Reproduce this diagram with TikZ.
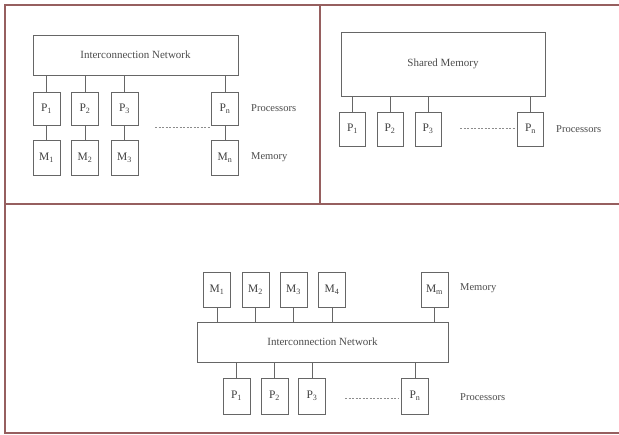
\documentclass[tikz,border=0pt]{standalone}
\usepackage{fontspec}
\setmainfont{Liberation Serif}
\begin{document}
\begin{tikzpicture}[x=1pt,y=-1pt,
  frame/.style={draw={rgb,255:red,150;green,95;blue,95},line width=1.6pt},
  unit/.style={draw=black!60,line width=0.8pt,minimum width=27pt,minimum height=34pt,inner sep=0pt,text=black!75,font=\fontsize{11.5}{13}\selectfont},
  bigbox/.style={draw=black!60,line width=0.8pt,inner sep=0pt,text=black!70,font=\fontsize{11}{12}\selectfont},
  lbl/.style={anchor=west,inner sep=0pt,text=black!70,font=\fontsize{10.5}{12}\selectfont},
  wire/.style={draw=black!60,line width=0.8pt},
  dots/.style={draw=black!45,line width=0.7pt,dash pattern=on 2pt off 1.5pt}]
\useasboundingbox (0,0) rectangle (619,435);
\fill[white] (0,0) rectangle (619,435);
% frame
\draw[frame] (619,5) -- (5,5) -- (5,433) -- (619,433);
\draw[frame] (5,204) -- (619,204);
\draw[frame] (320,5) -- (320,204);

% ---- top-left: distributed memory
\node[bigbox,minimum width=205pt,minimum height=40pt] (netA) at (135.5,55) {Interconnection Network};
\foreach \n/\x/\s in {1/46.5/1,2/85/2,3/124.5/3,4/225/n}{
  \node[unit,minimum height=33pt] (pA\n) at (\x,108.5) {P\textsubscript{\s}};
  \node[unit,minimum height=35pt] (mA\n) at (\x,157.5) {M\textsubscript{\s}};
  \draw[wire] (pA\n.north) -- (pA\n.north |- netA.south);
  \draw[wire] (pA\n.south) -- (mA\n.north);
}
\coordinate (dA1) at (155,127);
\coordinate (dA2) at (210,127);
\draw[dots] (dA1) -- (dA2);
\node[lbl] (procA) at (251,108) {Processors};
\node[lbl] (memA) at (251,157) {Memory};

% ---- top-right: shared memory
\node[bigbox,minimum width=204pt,minimum height=64pt] (sm) at (443,64) {Shared Memory};
\foreach \n/\x/\s in {1/352.5/1,2/390/2,3/428/3,4/530.5/n}{
  \node[unit,minimum width=26pt] (pB\n) at (\x,129) {P\textsubscript{\s}};
  \draw[wire] (pB\n.north) -- (pB\n.north |- sm.south);
}
\coordinate (dB1) at (460,128);
\coordinate (dB2) at (515,128);
\draw[dots] (dB1) -- (dB2);
\node[lbl] (procB) at (556,129) {Processors};

% ---- bottom: processors and memories on a network
\node[bigbox,minimum width=251pt,minimum height=40pt] (netC) at (322.5,342) {Interconnection Network};
\foreach \n/\x/\s in {1/217/1,2/255.5/2,3/293.5/3,4/332/4,5/434.5/m}{
  \node[unit,minimum height=35pt] (mC\n) at (\x,289.5) {M\textsubscript{\s}};
  \draw[wire] (mC\n.south) -- (mC\n.south |- netC.north);
}
\foreach \n/\x/\s in {1/236.5/1,2/274.5/2,3/312/3,4/415/n}{
  \node[unit,minimum height=36pt] (pC\n) at (\x,396) {P\textsubscript{\s}};
  \draw[wire] (pC\n.north) -- (pC\n.north |- netC.south);
}
\coordinate (dC1) at (345,398);
\coordinate (dC2) at (398,398);
\draw[dots] (dC1) -- (dC2);
\node[lbl] (memC) at (460,288) {Memory};
\node[lbl] (procC) at (460,397) {Processors};
\end{tikzpicture}
\end{document}
